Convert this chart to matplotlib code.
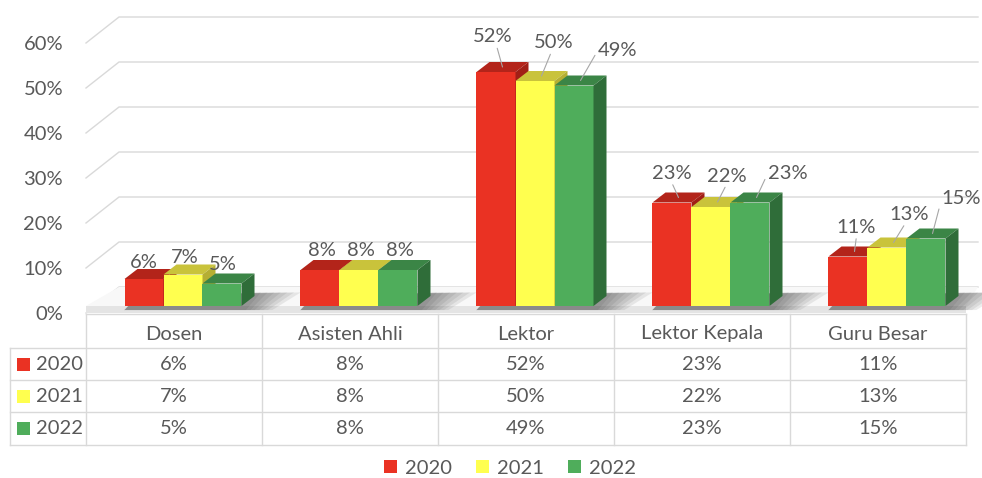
import matplotlib.pyplot as plt
from matplotlib.patches import Polygon, Rectangle, Patch

# data
categories = ['Dosen', 'Asisten Ahli', 'Lektor', 'Lektor Kepala', 'Guru Besar']
years = ['2020', '2021', '2022']
values_2020 = [6, 8, 52, 23, 11]
values_2021 = [7, 8, 50, 22, 13]
values_2022 = [5, 8, 49, 23, 15]
y_ticks = [0, 10, 20, 30, 40, 50, 60]
series = [values_2020, values_2021, values_2022]

# styles
front_colors = ['#EA3223', '#FFFF4F', '#4FAD5B']
top_colors = ['#B3241A', '#C9C33B', '#3B8546']
side_colors = ['#A11F16', '#B5AF33', '#2F6D39']
text_color = '#595959'
grid_color = '#D9D9D9'
FS = 14.5

# label offsets in pixels (dx, dy up) and leader line start (relpos) or None
label_offsets = [
    [(-7, 12), (-5, 12), (-6, 14)],
    [(-5, 15), (-5, 15), (-5, 15)],
    [(-10, 30), (12, 33), (37, 30)],
    [(-7, 24), (9, 26), (31, 24)],
    [(2, 24), (16, 28), (29, 35)],
]
leaders = [
    [None, None, None],
    [None, None, None],
    [(0.6, 0), (0.45, 0), (0, 0.5)],
    [(0.5, 0), (0.5, 0), (0, 0.5)],
    [(0.5, 0), (0.4, 0), (0, 0.5)],
]

plt.rcParams['font.family'] = ['Lato', 'DejaVu Sans']
plt.rcParams['font.size'] = FS

W, H = 982, 478
fig = plt.figure(figsize=(W / 100, H / 100), dpi=100)

# chart area: x in category units, y in percent
PX_X, PX_Y = 176, 4.5
left_px, zero_px = 86, 313
x_max = (978 - left_px) / PX_X
y_max = 67
ax = fig.add_axes([left_px / W, (H - zero_px) / H, x_max * PX_X / W, y_max * PX_Y / H])
ax.set_xlim(0, x_max)
ax.set_ylim(0, y_max)
for s in ax.spines.values():
    s.set_visible(False)
ax.set_xticks([])
ax.set_yticks(y_ticks)
ax.set_yticklabels([f'{t}%' for t in y_ticks])
ax.tick_params(axis='y', length=0, pad=16.5, labelcolor=text_color, labelsize=FS)

# 3d geometry (data units)
WALL_DX, WALL_DY = 33 / PX_X, 26 / PX_Y
BAR_W = 39 / PX_X
BAR_X0, BAR_Y0 = 9 / PX_X, 7 / PX_Y
BAR_DX, BAR_DY = 13 / PX_X, 10 / PX_Y
n = len(categories)

# back wall gridlines
for t in y_ticks:
    ax.plot([0, WALL_DX, x_max], [t, t + WALL_DY, t + WALL_DY],
            color=grid_color, lw=1, clip_on=False, zorder=1)

# floor
ax.add_patch(Polygon([(0, BAR_Y0), (WALL_DX, WALL_DY), (x_max, WALL_DY), (n, BAR_Y0)],
                     closed=True, facecolor='#F8F8F8', edgecolor='none', zorder=2))
ax.add_patch(Rectangle((0, 0), n, BAR_Y0, facecolor='#E4E4E4', edgecolor='none',
                       zorder=2, clip_on=False))

# shadows
for i in range(n):
    xl = i + 0.5 - 1.5 * BAR_W + BAR_X0
    xr = xl + 3 * BAR_W
    for k in range(7):
        s = 0.025 * (k + 1)
        ax.add_patch(Polygon([(xl, BAR_Y0 - 0.9), (xr + s, BAR_Y0 - 0.9),
                              (xr + BAR_DX + s * 1.5, BAR_Y0 + BAR_DY + 0.8),
                              (xl + BAR_DX, BAR_Y0 + BAR_DY)],
                             closed=True, facecolor='#303030', edgecolor='none',
                             alpha=0.09, zorder=3, clip_on=False))

# bars
z = 4
for i in range(n):
    for j, vals in enumerate(series):
        v = vals[i]
        x0 = i + 0.5 - 1.5 * BAR_W + BAR_X0 + j * BAR_W
        x1 = x0 + BAR_W
        y0 = BAR_Y0
        y1 = BAR_Y0 + v
        ax.add_patch(Rectangle((x0, y0), BAR_W, v, facecolor=front_colors[j],
                               edgecolor='none', zorder=z))
        ax.add_patch(Polygon([(x0, y1), (x1, y1), (x1 + BAR_DX, y1 + BAR_DY), (x0 + BAR_DX, y1 + BAR_DY)],
                             closed=True, facecolor=top_colors[j], edgecolor='none', zorder=z))
        ax.add_patch(Polygon([(x1, y0), (x1 + BAR_DX, y0 + BAR_DY), (x1 + BAR_DX, y1 + BAR_DY), (x1, y1)],
                             closed=True, facecolor=side_colors[j], edgecolor='none', zorder=z))
        z += 1

        # value label
        anchor = (x0 + BAR_W / 2 + BAR_DX / 2, y1 + BAR_DY / 2)
        dx, dy = label_offsets[i][j]
        arrow = None
        if leaders[i][j] is not None:
            arrow = dict(arrowstyle='-', color='#A6A6A6', lw=0.8,
                         relpos=leaders[i][j], shrinkA=0, shrinkB=0)
        ax.annotate(f'{v}%', xy=anchor, xytext=(dx, dy), textcoords='offset pixels',
                    ha='center', va='center', color=text_color, fontsize=FS,
                    arrowprops=arrow, zorder=30, annotation_clip=False)

# data table
rows = [0, 34, 66, 98, 131]
tab_left = (10 - left_px) / PX_X
tab = fig.add_axes([left_px / W, (H - 445) / H, x_max * PX_X / W, 131 / H])
tab.set_xlim(0, x_max)
tab.set_ylim(131, 0)
tab.axis('off')
tab.plot([0, n], [0, 0], color=grid_color, lw=1, clip_on=False)
for r in rows[1:]:
    tab.plot([tab_left, n], [r, r], color=grid_color, lw=1, clip_on=False)
for c in range(n + 1):
    tab.plot([c, c], [0, rows[-1]], color=grid_color, lw=1, clip_on=False)
tab.plot([tab_left, tab_left], [rows[1], rows[-1]], color=grid_color, lw=1, clip_on=False)

for i, cat in enumerate(categories):
    tab.text(i + 0.5, 20, cat, ha='center', va='center', color=text_color, fontsize=FS)
for j, vals in enumerate(series):
    yc = (rows[j + 1] + rows[j + 2]) / 2
    tab.add_patch(Rectangle(((17 - left_px) / PX_X, yc - 6.5), 13 / PX_X, 13,
                            facecolor=front_colors[j], edgecolor='none', clip_on=False))
    tab.text((36 - left_px) / PX_X, yc, years[j], ha='left', va='center',
             color=text_color, fontsize=FS)
    for i, v in enumerate(vals):
        tab.text(i + 0.5, yc, f'{v}%', ha='center', va='center', color=text_color, fontsize=FS)

# legend
handles = [Patch(facecolor=front_colors[j], edgecolor='none', label=years[j]) for j in range(3)]
fig.legend(handles=handles, loc='center', bbox_to_anchor=(510 / W, 1 - 468 / H), ncol=3,
           frameon=False, handlelength=0.65, handleheight=0.65, handletextpad=0.4,
           columnspacing=1.2, labelcolor=text_color, fontsize=FS)

fig.savefig('out.png', dpi=100)
